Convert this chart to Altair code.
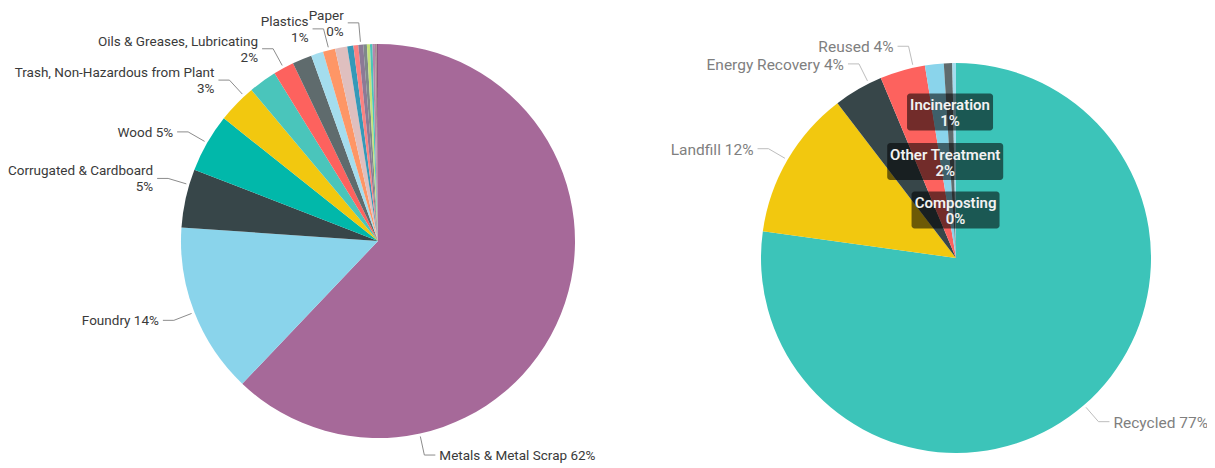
import altair as alt
import pandas as pd

# ---------------- data ----------------
waste_types = [
    "Metals & Metal Scrap", "Foundry", "Corrugated & Cardboard", "Wood",
    "Trash, Non-Hazardous from Plant", "Pallets", "Oils & Greases, Lubricating",
    "Glass", "Filters", "Plastics", "Electronics", "Batteries", "Coolant",
    "Paper", "Rubber", "Paint Waste", "Solvents", "Absorbents", "Food Waste", "Textiles",
]
waste_share = [62.1, 14.0, 4.8, 4.8, 3.2, 2.3, 1.7, 1.6, 1.0, 1.0, 1.0,
               0.5, 0.4, 0.4, 0.3, 0.25, 0.2, 0.2, 0.15, 0.1]

treatments = ["Recycled", "Landfill", "Energy Recovery", "Reused",
              "Other Treatment", "Incineration", "Composting"]
treatment_share = [77.2, 12.4, 4.1, 3.75, 1.55, 0.7, 0.3]

# ---------------- styles ----------------
waste_colors = ["#A66999", "#8AD4EB", "#374649", "#01B8AA", "#F2C80F", "#4AC5BB",
                "#FD625E", "#5F6B6D", "#A4DDEE", "#FE9666", "#DFBFBF", "#3599B8",
                "#FB8281", "#8C7A96", "#7F898A", "#C5E37A", "#4AC5BB", "#B687AC",
                "#A78F8F", "#8A5A7E"]
treatment_colors = ["#3CC4B9", "#F2C80F", "#374649", "#FD625E", "#8AD4EB", "#5F6B6D", "#A4DDEE"]

# labelled slices: name -> (angular nudge in degrees, two-line label)
waste_labels = {
    "Metals & Metal Scrap": (56, False),
    "Foundry": (0, False),
    "Corrugated & Cardboard": (4, True),
    "Wood": (0, False),
    "Trash, Non-Hazardous from Plant": (3, True),
    "Oils & Greases, Lubricating": (0, True),
    "Plastics": (0, True),
    "Paper": (0, True),
}
treatment_labels = {
    "Recycled": (0, False),
    "Landfill": (0, False),
    "Energy Recovery": (3.5, False),
    "Reused": (3.3, False),
}
# labels drawn inside dark boxes: name -> (radius, box width)
treatment_inner = {
    "Incineration": (146, 86),
    "Other Treatment": (97, 116),
    "Composting": (48, 88),
}

FONT = "Roboto"
W, H = 1199, 460
LCX, LCY, LR = 370, 233, 197
RCX, RCY, RR = 948, 250, 195

xs = alt.Scale(domain=[0, W], range=[0, W], nice=False, zero=False)
ys = alt.Scale(domain=[0, H], range=[0, H], nice=False, zero=False)


def make_df(names, values, labels, inner=None):
    inner = inner or {}
    return pd.DataFrame({
        "name": names,
        "share": values,
        "idx": list(range(len(names))),
        "show": [n in labels for n in names],
        "nudge": [labels.get(n, (0, False))[0] for n in names],
        "wrap": [labels.get(n, (0, False))[1] for n in names],
        "inner": [n in inner for n in names],
        "inner_r": [inner.get(n, (0, 0))[0] for n in names],
        "box_w": [inner.get(n, (0, 0))[1] for n in names],
    })


def pie(df, names, colors, cx, cy, r, fs, text_color, line_color):
    arc = alt.Chart(df).mark_arc(outerRadius=r).encode(
        theta=alt.Theta("share:Q", stack=True),
        order=alt.Order("idx:Q", sort="ascending"),
        color=alt.Color("name:N", scale=alt.Scale(domain=names, range=colors), legend=None),
        x=alt.value(cx), y=alt.value(cy),
    )
    base = (alt.Chart(df)
            .transform_joinaggregate(total="sum(share)")
            .transform_window(cum="sum(share)", sort=[alt.SortField("idx", order="ascending")],
                              frame=[None, 0])
            .transform_calculate(
                mid="(datum.cum - datum.share/2)/datum.total*2*PI + datum.nudge*PI/180",
                pct="format(datum.share/datum.total, '.0%')"))
    outer = (base.transform_filter("datum.show")
             .transform_calculate(side="sin(datum.mid) >= 0 ? 1 : -1")
             .transform_calculate(
                 ax=f"{cx} + {r + 3}*sin(datum.mid)", ay=f"{cy} - {r + 3}*cos(datum.mid)",
                 bx=f"{cx} + {r + 22}*sin(datum.mid)", by=f"{cy} - {r + 22}*cos(datum.mid)")
             .transform_calculate(cx2="datum.bx + datum.side*11")
             .transform_calculate(
                 tx="datum.cx2 + datum.side*4",
                 ty="datum.wrap ? datum.by - 7 : datum.by + 1",
                 label="datum.wrap ? datum.name + '\\n' + datum.pct : datum.name + ' ' + datum.pct"))
    seg1 = outer.mark_rule(color=line_color, strokeWidth=1).encode(
        x=alt.X("ax:Q", scale=xs, axis=None), y=alt.Y("ay:Q", scale=ys, axis=None),
        x2="bx:Q", y2="by:Q")
    seg2 = outer.mark_rule(color=line_color, strokeWidth=1).encode(
        x=alt.X("bx:Q", scale=xs, axis=None), y=alt.Y("by:Q", scale=ys, axis=None),
        x2="cx2:Q", y2="by:Q")
    txt_r = outer.transform_filter("datum.side > 0").mark_text(
        align="left", baseline="middle", lineBreak="\n", lineHeight=16,
        font=FONT, fontSize=fs, color=text_color).encode(
        x=alt.X("tx:Q", scale=xs, axis=None), y=alt.Y("ty:Q", scale=ys, axis=None),
        text="label:N")
    txt_l = outer.transform_filter("datum.side < 0").mark_text(
        align="right", baseline="middle", lineBreak="\n", lineHeight=16,
        font=FONT, fontSize=fs, color=text_color).encode(
        x=alt.X("tx:Q", scale=xs, axis=None), y=alt.Y("ty:Q", scale=ys, axis=None),
        text="label:N")
    layers = [arc, seg1, seg2, txt_r, txt_l]
    if df["inner"].any():
        inn = (base.transform_filter("datum.inner")
               .transform_calculate(
                   px=f"{cx} + datum.inner_r*sin(datum.mid)",
                   py=f"{cy} - datum.inner_r*cos(datum.mid)")
               .transform_calculate(
                   x_a="datum.px - datum.box_w/2", x_b="datum.px + datum.box_w/2",
                   y_a="datum.py - 18.5", y_b="datum.py + 18.5",
                   qy="datum.py - 7",
                   label="datum.name + '\\n' + datum.pct"))
        box = inn.mark_rect(color="black", opacity=0.55, cornerRadius=3).encode(
            x=alt.X("x_a:Q", scale=xs, axis=None), x2="x_b:Q",
            y=alt.Y("y_a:Q", scale=ys, axis=None), y2="y_b:Q")
        itxt = inn.mark_text(align="center", baseline="middle", lineBreak="\n", lineHeight=16,
                             font=FONT, fontSize=15, fontWeight=600, color="#F2F2F2").encode(
            x=alt.X("px:Q", scale=xs, axis=None), y=alt.Y("qy:Q", scale=ys, axis=None),
            text="label:N")
        layers += [box, itxt]
    return layers


df_left = make_df(waste_types, waste_share, waste_labels)
df_right = make_df(treatments, treatment_share, treatment_labels, treatment_inner)

layers = (pie(df_left, waste_types, waste_colors, LCX, LCY, LR, 13.5, "#3A3A3A", "#8C8C8C")
          + pie(df_right, treatments, treatment_colors, RCX, RCY, RR, 15.5, "#7F7F7F", "#BDBDBD"))

chart = (alt.layer(*layers)
         .resolve_scale(theta="independent", color="independent")
         .properties(width=W, height=H, padding=0, autosize="none")
         .configure_view(stroke=None))

chart.save("out.html", embed_options={"renderer": "svg", "actions": False})
